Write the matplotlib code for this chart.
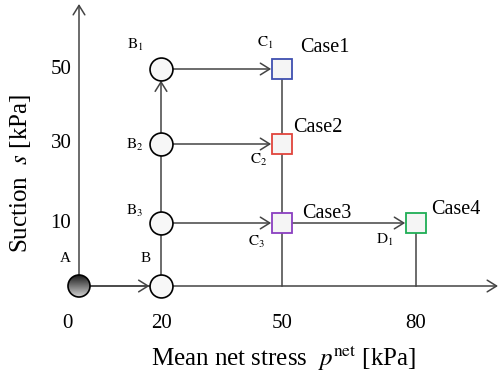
import numpy as np
import matplotlib
matplotlib.use("Agg")
import matplotlib.pyplot as plt
from matplotlib.patches import Circle

plt.rcParams['font.family'] = ['Liberation Serif', 'DejaVu Serif']
plt.rcParams['mathtext.fontset'] = 'stix'

# stress path states: net stress p [kPa], suction s [kPa]
names = ['A', 'B', 'B1', 'B2', 'B3', 'C1', 'C2', 'C3', 'D1']
p_net = [0, 20, 20, 20, 20, 50, 50, 50, 80]
suction = [0, 0, 50, 30, 10, 50, 30, 10, 10]
p_ticks = [0, 20, 50, 80]
s_ticks = [10, 30, 50]
cases = {'C1': 'Case1', 'C2': 'Case2', 'C3': 'Case3', 'D1': 'Case4'}
case_colors = {'C1': '#3f4fb0', 'C2': '#e0443c', 'C3': '#8a3fc0', 'D1': '#1fae55'}

# schematic (non-linear) placement of the axis values on the canvas
p_anchor = ([0, 20, 50, 80], [79, 161, 282, 416])
s_anchor = ([0, 10, 30, 50], [286, 223, 144, 69])


def px(p):
    return np.interp(p, *p_anchor)


def py(s):
    return np.interp(s, *s_anchor)


pt = dict(zip(names, zip(px(p_net), py(suction))))

fig = plt.figure(figsize=(5.0, 3.79), dpi=100)
ax = fig.add_axes([0, 0, 1, 1])
ax.set_xlim(0, 500)
ax.set_ylim(379, 0)
ax.axis('off')

lc = '#444444'
lw = 1.1
head = '->,head_length=0.45,head_width=0.28'


def arrow(a, b, shrink=0):
    ax.annotate('', xy=b, xytext=a,
                arrowprops=dict(arrowstyle=head, color=lc, lw=lw,
                                shrinkA=0, shrinkB=shrink, mutation_scale=15),
                zorder=2)


x0, y0 = pt['A']
# axes
arrow((x0, y0), (x0, 4))
arrow((x0, y0), (498, y0))

# loading paths
arrow(pt['A'], pt['B'], shrink=8.3)
ax.plot([pt['B'][0]] * 2, [pt['B'][1], pt['B3'][1]], color=lc, lw=lw, zorder=2)
arrow(pt['B3'], pt['B1'], shrink=8.3)
for b, c in [('B1', 'C1'), ('B2', 'C2'), ('B3', 'C3'), ('C3', 'D1')]:
    arrow(pt[b], pt[c], shrink=7.8)
ax.plot([pt['C1'][0]] * 2, [pt['C1'][1], y0], color=lc, lw=lw, zorder=2)
ax.plot([pt['D1'][0]] * 2, [pt['D1'][1], y0], color=lc, lw=lw, zorder=2)

# initial state A with shaded fill
r = 11
grad = np.linspace(0, 1, 64).reshape(-1, 1)
im = ax.imshow(grad, cmap='gray', vmin=-0.15, vmax=1.25, aspect='auto',
               extent=(x0 - r, x0 + r, y0 + r, y0 - r), zorder=3)
circ = Circle((x0, y0), r, facecolor='none', edgecolor='black', lw=1.2, zorder=4)
ax.add_patch(circ)
im.set_clip_path(circ)
ax.set_xlim(0, 500)
ax.set_ylim(379, 0)

for n in ['B', 'B1', 'B2', 'B3']:
    ax.plot(*pt[n], marker='o', ms=16.5, mfc='#f7f7f7', mec='black', mew=1.2, zorder=4)
for n in cases:
    ax.plot(*pt[n], marker='s', ms=15, mfc='#f5f5f5', mec=case_colors[n], mew=1.3, zorder=4)

# state labels
lab_pos = {'A': (65, 258), 'B': (146, 258), 'B1': (135, 45), 'B2': (135, 145),
           'B3': (135, 211), 'C1': (265, 43), 'C2': (259, 160), 'C3': (257, 242),
           'D1': (385, 240)}
for n, (lx, ly) in lab_pos.items():
    txt = n if len(n) == 1 else r'$\mathrm{%s}_{%s}$' % (n[0], n[1])
    ax.text(lx, ly, txt, fontsize=11, ha='center', va='center')

case_pos = {'C1': (325, 47), 'C2': (318, 128), 'C3': (327, 213), 'D1': (456, 210)}
for n, (lx, ly) in case_pos.items():
    ax.text(lx, ly, cases[n], fontsize=14.5, ha='center', va='center')

# tick labels
for p in p_ticks:
    xx = px(p) - (12 if p == 0 else 0)
    ax.text(xx, 323, str(p), fontsize=15, ha='center', va='center')
for s in s_ticks:
    ax.text(61, py(s), str(s), fontsize=15, ha='center', va='center')

ax.text(284, 357, r'Mean net stress  $p^{\mathrm{net}}$ [kPa]', fontsize=18,
        ha='center', va='center')
ax.text(21, 173, r'Suction  $s$ [kPa]', fontsize=18, rotation=90,
        ha='center', va='center')

fig.savefig('out.png', dpi=100)
